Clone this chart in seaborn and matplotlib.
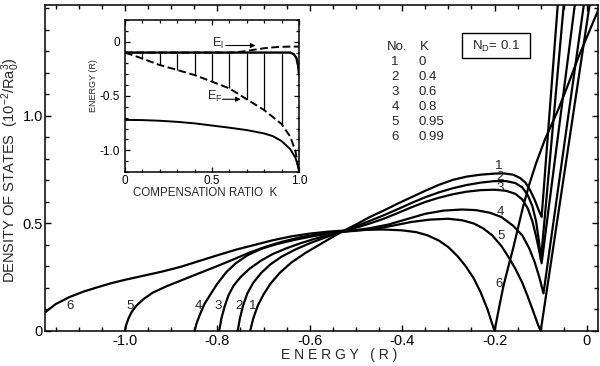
import matplotlib
matplotlib.use("Agg")
import matplotlib.pyplot as plt
from matplotlib.patches import Rectangle
from matplotlib.ticker import FixedLocator, MultipleLocator
import numpy as np
import pandas as pd
import seaborn as sns

# ---------------------------------------------------------------------------
# Density of states (10^-2 / R a0^3) versus energy (R), N_D = 0.1
# ---------------------------------------------------------------------------
curve_no = [1, 2, 3, 4, 5, 6]
k_values = [0, 0.4, 0.6, 0.8, 0.95, 0.99]
k_labels = ["0", "0.4", "0.6", "0.8", "0.95", "0.99"]

e1 = [-0.729, -0.722, -0.712, -0.700, -0.685, -0.665, -0.640, -0.610, -0.580,
      -0.550, -0.530, -0.500, -0.470, -0.440, -0.410, -0.380, -0.350, -0.320,
      -0.290, -0.260, -0.230, -0.200, -0.180, -0.160, -0.145, -0.133, -0.123,
      -0.113, -0.105, -0.098, -0.063]
d1 = [0.000, 0.060, 0.120, 0.170, 0.220, 0.270, 0.318, 0.362, 0.400,
      0.438, 0.462, 0.495, 0.530, 0.560, 0.592, 0.622, 0.652, 0.680,
      0.703, 0.718, 0.727, 0.732, 0.733, 0.727, 0.712, 0.690, 0.655,
      0.610, 0.565, 0.530, 1.520]

e2 = [-0.756, -0.751, -0.744, -0.735, -0.722, -0.705, -0.685, -0.660, -0.630,
      -0.600, -0.565, -0.530, -0.500, -0.470, -0.440, -0.410, -0.380, -0.350,
      -0.320, -0.290, -0.260, -0.230, -0.200, -0.175, -0.155, -0.140, -0.128,
      -0.118, -0.110, -0.104, -0.0995, -0.050]
d2 = [0.000, 0.060, 0.120, 0.175, 0.225, 0.270, 0.310, 0.347, 0.380,
      0.408, 0.436, 0.462, 0.487, 0.512, 0.538, 0.566, 0.595, 0.622,
      0.645, 0.664, 0.679, 0.690, 0.697, 0.697, 0.688, 0.668, 0.632,
      0.580, 0.510, 0.420, 0.330, 1.520]

e3 = [-0.796, -0.791, -0.784, -0.776, -0.765, -0.750, -0.730, -0.705, -0.680,
      -0.650, -0.620, -0.590, -0.560, -0.530, -0.500, -0.470, -0.440, -0.410,
      -0.380, -0.350, -0.320, -0.290, -0.260, -0.230, -0.200, -0.175, -0.155,
      -0.140, -0.128, -0.118, -0.110, -0.103, -0.098, -0.026]
d3 = [0.000, 0.060, 0.115, 0.165, 0.210, 0.250, 0.290, 0.328, 0.358,
      0.385, 0.408, 0.428, 0.446, 0.462, 0.480, 0.500, 0.522, 0.548,
      0.575, 0.600, 0.620, 0.636, 0.648, 0.655, 0.657, 0.652, 0.638,
      0.612, 0.570, 0.510, 0.440, 0.370, 0.315, 1.520]

e4 = [-0.849, -0.845, -0.838, -0.828, -0.815, -0.800, -0.780, -0.760, -0.735,
      -0.705, -0.670, -0.630, -0.590, -0.550, -0.510, -0.470, -0.430, -0.390,
      -0.350, -0.310, -0.270, -0.240, -0.210, -0.185, -0.160, -0.140, -0.125,
      -0.113, -0.103, -0.094, -0.0065]
d4 = [0.000, 0.035, 0.075, 0.125, 0.170, 0.220, 0.275, 0.315, 0.352,
      0.382, 0.405, 0.425, 0.442, 0.455, 0.466, 0.478, 0.495, 0.520,
      0.545, 0.560, 0.565, 0.562, 0.550, 0.530, 0.490, 0.445, 0.385,
      0.320, 0.250, 0.175, 1.520]

e5 = [-1.000, -0.997, -0.992, -0.985, -0.975, -0.960, -0.940, -0.910, -0.875,
      -0.840, -0.800, -0.765, -0.730, -0.695, -0.660, -0.620, -0.580, -0.540,
      -0.500, -0.460, -0.420, -0.380, -0.340, -0.300, -0.270, -0.245, -0.225,
      -0.205, -0.185, -0.170, -0.155, -0.140, -0.128, -0.116, -0.106, -0.100,
      0.006]
d5 = [0.000, 0.030, 0.060, 0.090, 0.118, 0.148, 0.178, 0.208, 0.238,
      0.268, 0.302, 0.333, 0.365, 0.392, 0.415, 0.436, 0.450, 0.460,
      0.466, 0.474, 0.490, 0.507, 0.518, 0.522, 0.515, 0.500, 0.478,
      0.445, 0.395, 0.345, 0.290, 0.225, 0.160, 0.090, 0.030, 0.000,
      1.520]

e6 = [-1.180, -1.150, -1.120, -1.090, -1.060, -1.030, -1.000, -0.960, -0.920,
      -0.880, -0.840, -0.800, -0.760, -0.720, -0.680, -0.640, -0.600, -0.560,
      -0.520, -0.480, -0.440, -0.400, -0.370, -0.345, -0.320, -0.300, -0.280,
      -0.262, -0.245, -0.230, -0.215, -0.200, -0.190, -0.181, -0.170, -0.159,
      -0.148, -0.138, -0.125, -0.110, -0.091, -0.062, -0.040, -0.019, 0.024]
d6 = [0.075, 0.125, 0.158, 0.183, 0.203, 0.222, 0.238, 0.257, 0.276,
      0.298, 0.325, 0.352, 0.378, 0.400, 0.422, 0.440, 0.453, 0.462,
      0.468, 0.471, 0.472, 0.468, 0.460, 0.445, 0.420, 0.390, 0.348,
      0.300, 0.245, 0.180, 0.100, 0.000, 0.110, 0.206, 0.300, 0.390,
      0.490, 0.580, 0.680, 0.780, 0.890, 1.030, 1.150, 1.270, 1.490]

energies = [e1, e2, e3, e4, e5, e6]
densities = [d1, d2, d3, d4, d5, d6]

x_ticks = [-1.0, -0.8, -0.6, -0.4, -0.2, 0.0]
x_tick_labels = ["-1.0", "-0.8", "-0.6", "-0.4", "-0.2", "0"]
y_ticks = [0.0, 0.5, 1.0]
y_tick_labels = ["0", "0.5", "1.0"]

# ---------------------------------------------------------------------------
# Inset: characteristic energies (R) versus compensation ratio K
# ---------------------------------------------------------------------------
k_top = [0.0, 0.95, 0.97, 0.985, 0.995, 1.0]
e_top = [-0.10, -0.10, -0.115, -0.15, -0.22, -0.30]

k_el = [0.0, 0.6, 0.65, 0.7, 0.75, 0.8, 0.85, 0.9, 0.95, 1.0]
e_el = [-0.10, -0.10, -0.095, -0.085, -0.072, -0.060, -0.052, -0.047, -0.045, -0.045]

k_ef = [0.0, 0.1, 0.2, 0.3, 0.4, 0.5, 0.6, 0.7, 0.8, 0.9, 0.95, 0.98, 1.0]
e_ef = [-0.10, -0.155, -0.215, -0.26, -0.307, -0.368, -0.43, -0.53, -0.63,
        -0.758, -0.875, -1.01, -1.20]

k_low = [0.0, 0.1, 0.2, 0.3, 0.4, 0.5, 0.6, 0.7, 0.8, 0.85, 0.9, 0.95, 0.98,
         0.995, 1.0]
e_low = [-0.72, -0.722, -0.728, -0.738, -0.752, -0.772, -0.792, -0.814, -0.845,
         -0.87, -0.915, -0.99, -1.07, -1.15, -1.20]

k_bars = [0.1, 0.2, 0.3, 0.4, 0.5, 0.6, 0.7, 0.8, 0.9]
bar_top = -0.10
bar_bottom = [-0.155, -0.215, -0.26, -0.307, -0.368, -0.43, -0.53, -0.63, -0.758]

inset_x_ticks = [0.0, 0.5, 1.0]
inset_x_labels = ["0", "0.5", "1.0"]
inset_y_ticks = [0.0, -0.5, -1.0]
inset_y_labels = ["0", "-0.5", "-1.0"]

# ---------------------------------------------------------------------------
sns.set_theme(style="ticks")
plt.rcParams["font.family"] = ["Liberation Sans", "DejaVu Sans"]
plt.rcParams["axes.unicode_minus"] = False
plt.rcParams["mathtext.fontset"] = "custom"
plt.rcParams["mathtext.rm"] = "Liberation Sans"
plt.rcParams["mathtext.it"] = "Liberation Sans:italic"
plt.rcParams["axes.edgecolor"] = "black"
plt.rcParams["axes.linewidth"] = 1.1
plt.rcParams["xtick.color"] = "black"
plt.rcParams["ytick.color"] = "black"

fig = plt.figure(figsize=(6.0, 3.66), dpi=100)
fig.patch.set_facecolor("white")
ax = fig.add_axes([45 / 600, 35 / 366, 553 / 600, 326 / 366])
ax.set_facecolor("white")

frames = []
for no, e, d in zip(curve_no, energies, densities):
    frames.append(pd.DataFrame({"E": e, "D": d, "No": no}))
dos = pd.concat(frames, ignore_index=True)

sns.lineplot(data=dos, x="E", y="D", units="No", estimator=None, sort=False,
             color="black", linewidth=1.6, legend=False, ax=ax)

ax.set_xlim(-1.173, 0.024)
ax.set_ylim(0.0, 1.516)
ax.xaxis.set_major_locator(FixedLocator(x_ticks))
ax.set_xticklabels(x_tick_labels)
ax.xaxis.set_minor_locator(MultipleLocator(0.05))
ax.yaxis.set_major_locator(FixedLocator(y_ticks))
ax.set_yticklabels(y_tick_labels)
ax.yaxis.set_minor_locator(MultipleLocator(0.1))
ax.tick_params(which="both", direction="in", top=True, right=True,
               labelsize=10.5, width=1.0)
ax.tick_params(which="major", length=4.5)
ax.tick_params(which="minor", length=3.0)
ax.tick_params(axis="x", pad=2.5)
ax.tick_params(axis="y", pad=1.5)

ax.set_xlabel("E N E R G Y   ( R )", fontsize=10)
ax.xaxis.set_label_coords(0.532, -0.052)
ax.set_ylabel(r"DENSITY OF STATES  $(\mathrm{10^{-2}/Ra_0^3})$", fontsize=10.5)
ax.yaxis.set_label_coords(-0.042, 0.494)

# curve numbers near the band edges and near the peaks
low_label_pos = [(-0.724, 0.118), (-0.754, 0.118), (-0.798, 0.118),
                 (-0.842, 0.118), (-0.988, 0.118), (-1.118, 0.118)]
high_label_pos = [(-0.190, 0.768), (-0.188, 0.717), (-0.188, 0.664),
                  (-0.188, 0.552), (-0.186, 0.442), (-0.191, 0.219)]
for no, (xl, yl), (xh, yh) in zip(curve_no, low_label_pos, high_label_pos):
    ax.text(xl, yl, str(no), fontsize=9.5, ha="center", va="center")
    ax.text(xh, yh, str(no), fontsize=9.5, ha="center", va="center")

# table of compensation ratios
ax.text(0.618, 0.872, "No.", transform=ax.transAxes, fontsize=9.5,
        ha="left", va="center")
ax.text(0.678, 0.872, "K", transform=ax.transAxes, fontsize=9.5,
        ha="left", va="center")
row_y = [0.826, 0.780, 0.734, 0.688, 0.642, 0.596]
for no, lab, yy in zip(curve_no, k_labels, row_y):
    ax.text(0.633, yy, str(no), transform=ax.transAxes, fontsize=9.5,
            ha="center", va="center")
    ax.text(0.675, yy, lab, transform=ax.transAxes, fontsize=9.5,
            ha="left", va="center")

ax.add_patch(Rectangle((0.754, 0.837), 0.123, 0.077, transform=ax.transAxes,
                       fill=False, edgecolor="black", linewidth=1.0))
ax.text(0.8156, 0.874, r"N$_\mathrm{D}$= 0.1", transform=ax.transAxes,
        fontsize=9.5, ha="center", va="center")

# ---------------------------------------------------------------------------
ins = fig.add_axes([125 / 600, (366 - 172) / 366, 174 / 600, 152 / 366])
ins.set_facecolor("white")

sns.lineplot(x=k_top, y=e_top, sort=False, color="black", linewidth=1.7, ax=ins)
sns.lineplot(x=k_low, y=e_low, sort=False, color="black", linewidth=1.4, ax=ins)
sns.lineplot(x=k_el, y=e_el, sort=False, color="black", linewidth=1.4,
             linestyle=(0, (4, 1.8)), ax=ins)
sns.lineplot(x=k_ef, y=e_ef, sort=False, color="black", linewidth=1.4,
             linestyle=(0, (4, 1.8)), ax=ins)
ins.vlines(k_bars, bar_bottom, bar_top, color="black", linewidth=0.9)

ins.set_xlim(0.0, 1.0)
ins.set_ylim(-1.2, 0.2)
ins.xaxis.set_major_locator(FixedLocator(inset_x_ticks))
ins.set_xticklabels(inset_x_labels)
ins.xaxis.set_minor_locator(MultipleLocator(0.1))
ins.yaxis.set_major_locator(FixedLocator(inset_y_ticks))
ins.set_yticklabels(inset_y_labels)
ins.yaxis.set_minor_locator(MultipleLocator(0.1))
ins.tick_params(which="both", direction="in", top=True, right=True,
                labelsize=8.5, width=0.9)
ins.tick_params(which="major", length=3.5)
ins.tick_params(which="minor", length=2.5)
ins.tick_params(axis="x", pad=2)
ins.tick_params(axis="y", pad=3.5)

ins.set_xlabel("COMPENSATION RATIO  K", fontsize=8.3)
ins.xaxis.set_label_coords(0.46, -0.10)
ins.set_ylabel("ENERGY (R)", fontsize=6.5)
ins.yaxis.set_label_coords(-0.158, 0.57)

ins.annotate("", xy=(0.75, -0.035), xytext=(0.58, -0.035),
             arrowprops=dict(arrowstyle="-|>", color="black", lw=0.8,
                             mutation_scale=7, shrinkA=0, shrinkB=0))
ins.text(0.50, -0.045, r"E$_\mathrm{l}$", fontsize=9, ha="left",
         va="baseline")
ins.annotate("", xy=(0.665, -0.53), xytext=(0.56, -0.53),
             arrowprops=dict(arrowstyle="-|>", color="black", lw=0.8,
                             mutation_scale=7, shrinkA=0, shrinkB=0))
ins.text(0.47, -0.537, r"E$_\mathrm{F}$", fontsize=9, ha="left",
         va="baseline")

fig.savefig("out.png", dpi=100, facecolor="white")
